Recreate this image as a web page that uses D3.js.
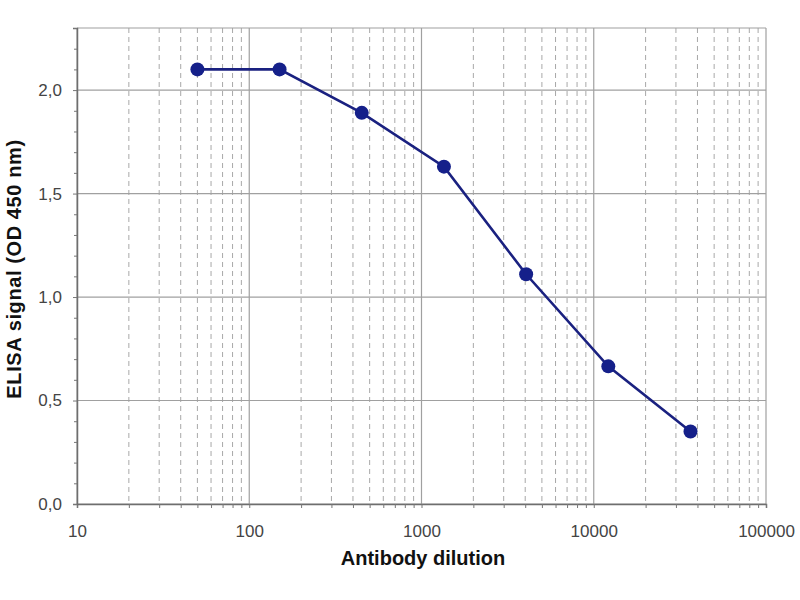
<!DOCTYPE html>
<html>
<head>
<meta charset="utf-8">
<script src="https://cdn.jsdelivr.net/npm/d3@7"></script>
<style>
  body { margin: 0; background: #fff; }
  svg { font-family: "Liberation Sans", Arial, sans-serif; }
</style>
</head>
<body>
<svg width="800" height="600"></svg>
<script>
// **** Data ****
var dilutions = [50, 150, 450, 1350, 4050, 12150, 36450];
var signals = [2.10, 2.10, 1.89, 1.63, 1.11, 0.665, 0.35];
var xTickValues = [10, 100, 1000, 10000, 100000];
var yTickValues = [0, 0.5, 1.0, 1.5, 2.0];

// **** Scales ****
var xScale = d3.scaleLog().domain([10, 100000]).range([77, 766]);
var yScale = d3.scaleLinear().domain([0, 2.3]).range([504, 28]);

var svg = d3.select('svg');

// minor values: 2..9 of each decade
var minorX = [];
xTickValues.slice(0, -1).forEach(function(d) {
    for (var k = 2; k <= 9; k++) minorX.push(d * k);
});
var minorY = d3.range(0, 2.31, 0.1).filter(function(v) {
    return Math.abs(v * 2 - Math.round(v * 2)) > 0.01;
});

// minor vertical dashed grid
svg.append('g').selectAll('line')
    .data(minorX).enter().append('line')
    .attr('x1', d => xScale(d)).attr('x2', d => xScale(d))
    .attr('y1', yScale(2.3)).attr('y2', yScale(0))
    .attr('stroke', '#a8a8a8')
    .attr('stroke-width', 1)
    .attr('stroke-dasharray', '5,4');

// major vertical grid
svg.append('g').selectAll('line')
    .data(xTickValues).enter().append('line')
    .attr('x1', d => xScale(d)).attr('x2', d => xScale(d))
    .attr('y1', yScale(2.3)).attr('y2', yScale(0))
    .attr('stroke', '#a0a0a0').attr('stroke-width', 1.2);

// major horizontal grid
svg.append('g').selectAll('line')
    .data(yTickValues.concat([2.3])).enter().append('line')
    .attr('x1', xScale(10)).attr('x2', xScale(100000))
    .attr('y1', d => yScale(d)).attr('y2', d => yScale(d))
    .attr('stroke', '#a0a0a0').attr('stroke-width', 1.2);

// **** Axes ****
var fmt = function(d) { return d3.format('.1f')(d).replace('.', ','); };

svg.append('g').attr('class', 'x axis')
    .attr('transform', 'translate(0,' + yScale(0) + ')')
    .call(d3.axisBottom(xScale).tickValues(xTickValues)
        .tickFormat(d3.format('d')).tickSize(4).tickPadding(17));

svg.append('g').attr('class', 'x minor')
    .attr('transform', 'translate(0,' + yScale(0) + ')')
    .call(d3.axisBottom(xScale).tickValues(minorX).tickFormat('').tickSize(4));

svg.append('g').attr('class', 'y axis')
    .attr('transform', 'translate(' + xScale(10) + ',0)')
    .call(d3.axisLeft(yScale).tickValues(yTickValues)
        .tickFormat(fmt).tickSize(4).tickPadding(11));

svg.append('g').attr('class', 'y minor')
    .attr('transform', 'translate(' + xScale(10) + ',0)')
    .call(d3.axisLeft(yScale).tickValues(minorY).tickFormat('').tickSize(3));

svg.selectAll('.domain').attr('stroke', '#6e6e6e').attr('stroke-width', 1.5);
svg.selectAll('.tick line').attr('stroke', '#777');
svg.selectAll('.minor .domain').remove();
svg.selectAll('.axis text')
    .attr('font-size', 17)
    .attr('fill', '#444')
    .attr('font-family', '"Liberation Sans", Arial, sans-serif');

// **** Labels ****
svg.append('text')
    .attr('x', 423)
    .attr('y', 565)
    .attr('text-anchor', 'middle')
    .attr('font-size', 20)
    .attr('font-weight', 'bold')
    .attr('fill', '#111')
    .text('Antibody dilution');

svg.append('text')
    .attr('transform', 'translate(21,269) rotate(-90)')
    .attr('text-anchor', 'middle')
    .attr('font-size', 20)
    .attr('font-weight', 'bold')
    .attr('letter-spacing', 0.6)
    .attr('fill', '#111')
    .text('ELISA signal (OD 450 nm)');

// **** Series ****
var points = dilutions.map(function(d, i) { return { x: d, y: signals[i] }; });

svg.append('path')
    .datum(points)
    .attr('fill', 'none')
    .attr('stroke', '#1a2180')
    .attr('stroke-width', 2.6)
    .attr('d', d3.line().x(d => xScale(d.x)).y(d => yScale(d.y)));

svg.selectAll('circle')
    .data(points)
    .enter()
    .append('circle')
    .attr('cx', d => xScale(d.x))
    .attr('cy', d => yScale(d.y))
    .attr('r', 7)
    .attr('fill', '#15208a');
</script>
</body>
</html>
